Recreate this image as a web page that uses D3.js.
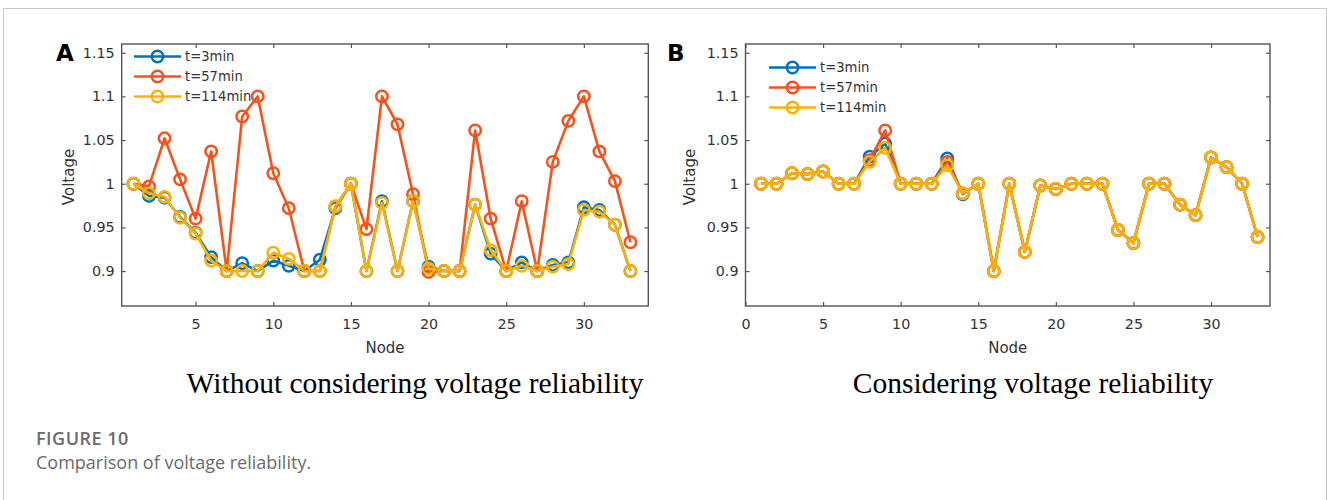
<!DOCTYPE html>
<html>
<head>
<meta charset="utf-8">
<script src="https://cdn.jsdelivr.net/npm/d3@7"></script>
<style>
    body { margin: 0; background: #fff; }
    .tick text { font-family: "DejaVu Sans", sans-serif; font-size: 14.3px; fill: #333; }
    .tick line { stroke: #555; stroke-width: 1.2; }
    .axis-label { font-family: "DejaVu Sans", sans-serif; font-size: 15px; fill: #333; }
    .legend-text { font-family: "DejaVu Sans", sans-serif; font-size: 13.2px; fill: #333; }
    .panel-letter { font-family: "DejaVu Sans", sans-serif; font-size: 23px; font-weight: bold; fill: #000; }
    .subtitle { font-family: "Liberation Serif", "Times New Roman", serif; font-size: 29.5px; fill: #000; }
</style>
</head>
<body>
<div id="chart"></div>
<script>

// Node numbers (x axis)
var nodes = [1, 2, 3, 4, 5, 6, 7, 8, 9, 10, 11, 12, 13, 14, 15, 16, 17,
    18, 19, 20, 21, 22, 23, 24, 25, 26, 27, 28, 29, 30, 31, 32, 33];

var seriesNames = ["t=3min", "t=57min", "t=114min"];
var seriesColors = ["#0072BD", "#F8511A", "#FFB000"];

// (A) Without considering voltage reliability
var voltageA_t3 = [1.000, 0.986, 0.984, 0.962, 0.944, 0.916, 0.900, 0.909, 0.900, 0.912, 0.906,
    0.900, 0.913, 0.972, 1.000, 0.900, 0.980, 0.900, 0.980, 0.905, 0.900, 0.900,
    0.976, 0.920, 0.900, 0.910, 0.900, 0.907, 0.910, 0.973, 0.970, 0.953, 0.900];
var voltageA_t57 = [1.000, 0.997, 1.052, 1.005, 0.960, 1.037, 0.900, 1.077, 1.100, 1.012, 0.972,
    0.900, 0.900, 0.974, 1.000, 0.948, 1.100, 1.068, 0.988, 0.899, 0.900, 0.900,
    1.061, 0.960, 0.900, 0.980, 0.900, 1.025, 1.072, 1.100, 1.037, 1.003, 0.933];
var voltageA_t114 = [1.000, 0.989, 0.985, 0.961, 0.943, 0.912, 0.900, 0.900, 0.900, 0.921, 0.914,
    0.900, 0.900, 0.974, 1.000, 0.900, 0.978, 0.900, 0.980, 0.903, 0.900, 0.900,
    0.976, 0.924, 0.900, 0.906, 0.900, 0.905, 0.908, 0.970, 0.968, 0.953, 0.900];

// (B) Considering voltage reliability
var voltageB_t3 = [1.000, 1.000, 1.012, 1.011, 1.014, 1.000, 1.000, 1.031, 1.046, 1.000, 1.000,
    1.000, 1.029, 0.988, 1.000, 0.900, 1.000, 0.922, 0.998, 0.994, 1.000, 1.000,
    1.000, 0.947, 0.932, 1.000, 1.000, 0.976, 0.964, 1.030, 1.019, 1.000, 0.939];
var voltageB_t57 = [1.000, 1.000, 1.012, 1.011, 1.014, 1.000, 1.000, 1.027, 1.061, 1.000, 1.000,
    1.000, 1.025, 0.989, 1.000, 0.900, 1.000, 0.922, 0.998, 0.994, 1.000, 1.000,
    1.000, 0.947, 0.932, 1.000, 1.000, 0.976, 0.964, 1.030, 1.019, 1.000, 0.939];
var voltageB_t114 = [1.000, 1.000, 1.012, 1.011, 1.014, 1.000, 1.000, 1.025, 1.041, 1.000, 1.000,
    1.000, 1.021, 0.989, 1.000, 0.900, 1.000, 0.922, 0.998, 0.994, 1.000, 1.000,
    1.000, 0.947, 0.932, 1.000, 1.000, 0.976, 0.964, 1.030, 1.019, 1.000, 0.939];

var yTicks = [0.9, 0.95, 1, 1.05, 1.1, 1.15];
var xTicksA = [5, 10, 15, 20, 25, 30];
var xTicksB = [0, 5, 10, 15, 20, 25, 30];

var svgWidth = 1327, svgHeight = 500;

var svg = d3.select("#chart").append("svg")
    .attr("width", svgWidth)
    .attr("height", svgHeight);

// light frame round the figure
svg.append("path")
    .attr("d", "M3.5,500 V8.5 H1326.5 V500")
    .attr("fill", "none")
    .attr("stroke", "#c8c8c8")
    .attr("stroke-width", 1);


function drawPanel(opt) {
    var g = svg.append("g");

    var x = d3.scaleLinear().domain(opt.xDomain).range([opt.left, opt.right]);
    var y = d3.scaleLinear().domain([0.86, 1.16]).range([opt.bottom, opt.top]);

    // axes (ticks point inward, like MATLAB)
    g.append("g")
        .attr("transform", "translate(0," + opt.bottom + ")")
        .call(d3.axisBottom(x).tickValues(opt.xTicks).tickSizeInner(-4).tickSizeOuter(0).tickPadding(13))
        .call(function(a) { a.select(".domain").remove(); });

    g.append("g")
        .attr("transform", "translate(0," + opt.top + ")")
        .call(d3.axisTop(x).tickValues(opt.xTicks).tickSizeInner(-4).tickSizeOuter(0).tickFormat(""))
        .call(function(a) { a.select(".domain").remove(); });

    g.append("g")
        .attr("transform", "translate(" + opt.left + ",0)")
        .call(d3.axisLeft(y).tickValues(yTicks).tickSizeInner(-4).tickSizeOuter(0).tickPadding(7)
            .tickFormat(d3.format("")))
        .call(function(a) { a.select(".domain").remove(); });

    g.append("g")
        .attr("transform", "translate(" + opt.right + ",0)")
        .call(d3.axisRight(y).tickValues(yTicks).tickSizeInner(-4).tickSizeOuter(0).tickFormat(""))
        .call(function(a) { a.select(".domain").remove(); });

    g.append("rect")
        .attr("x", opt.left)
        .attr("y", opt.top)
        .attr("width", opt.right - opt.left)
        .attr("height", opt.bottom - opt.top)
        .attr("fill", "none")
        .attr("stroke", "#555")
        .attr("stroke-width", 1.4);

    // series
    var line = d3.line()
        .x(function(d, i) { return x(nodes[i]); })
        .y(function(d) { return y(d); });

    opt.series.forEach(function(values, k) {
        g.append("path")
            .datum(values)
            .attr("d", line)
            .attr("fill", "none")
            .attr("stroke", seriesColors[k])
            .attr("stroke-width", 2.6)
            .attr("stroke-linejoin", "round");

        g.selectAll(".marker-" + k)
            .data(values)
            .enter().append("circle")
            .attr("class", "marker-" + k)
            .attr("cx", function(d, i) { return x(nodes[i]); })
            .attr("cy", function(d) { return y(d); })
            .attr("r", 5.7)
            .attr("fill", "none")
            .attr("stroke", seriesColors[k])
            .attr("stroke-width", 2.5);
    });

    // legend
    seriesNames.forEach(function(name, k) {
        var ly = opt.legendY + k * 20;
        g.append("line")
            .attr("x1", opt.legendX)
            .attr("x2", opt.legendX + 47)
            .attr("y1", ly)
            .attr("y2", ly)
            .attr("stroke", seriesColors[k])
            .attr("stroke-width", 2.6);
        g.append("circle")
            .attr("cx", opt.legendX + 23.5)
            .attr("cy", ly)
            .attr("r", 5.7)
            .attr("fill", "none")
            .attr("stroke", seriesColors[k])
            .attr("stroke-width", 2.5);
        g.append("text")
            .attr("class", "legend-text")
            .attr("x", opt.legendX + 51)
            .attr("y", ly + 4.5)
            .text(name);
    });

    // labels
    g.append("text")
        .attr("class", "axis-label")
        .attr("transform", "translate(" + (opt.left - opt.voltageOffset) + "," + ((opt.top + opt.bottom) / 2 + 2) + ") rotate(-90)")
        .attr("text-anchor", "middle")
        .text("Voltage");

    g.append("text")
        .attr("class", "axis-label")
        .attr("x", (opt.left + opt.right) / 2)
        .attr("y", opt.bottom + 47)
        .attr("text-anchor", "middle")
        .text("Node");

    g.append("text")
        .attr("class", "panel-letter")
        .attr("x", opt.letterX)
        .attr("y", 61)
        .text(opt.letter);

    g.append("text")
        .attr("class", "subtitle")
        .attr("x", opt.subtitleX)
        .attr("y", 393)
        .attr("text-anchor", "middle")
        .text(opt.subtitle);
}

drawPanel({
    left: 121.7, right: 648.3, top: 44, bottom: 306,
    xDomain: [0.24, 34.15],
    xTicks: xTicksA,
    series: [voltageA_t3, voltageA_t57, voltageA_t114],
    legendX: 134, legendY: 56.5,
    voltageOffset: 48,
    letter: "A", letterX: 56,
    subtitle: "Without considering voltage reliability", subtitleX: 415
});

drawPanel({
    left: 745.5, right: 1270, top: 44, bottom: 306,
    xDomain: [0, 33.8],
    xTicks: xTicksB,
    series: [voltageB_t3, voltageB_t57, voltageB_t114],
    legendX: 769, legendY: 67.5,
    voltageOffset: 51,
    letter: "B", letterX: 667,
    subtitle: "Considering voltage reliability", subtitleX: 1033
});

// caption
svg.append("text")
    .attr("x", 36)
    .attr("y", 445)
    .style("font-family", "'Open Sans', sans-serif")
    .style("font-size", "18px")
    .style("font-weight", 600)
    .style("letter-spacing", "0.5px")
    .style("fill", "#6b6b6b")
    .text("FIGURE 10");

svg.append("text")
    .attr("x", 36)
    .attr("y", 469)
    .style("font-family", "'Open Sans', sans-serif")
    .style("font-size", "18px")
    .style("fill", "#6b6b6b")
    .text("Comparison of voltage reliability.");

</script>
</body>
</html>
